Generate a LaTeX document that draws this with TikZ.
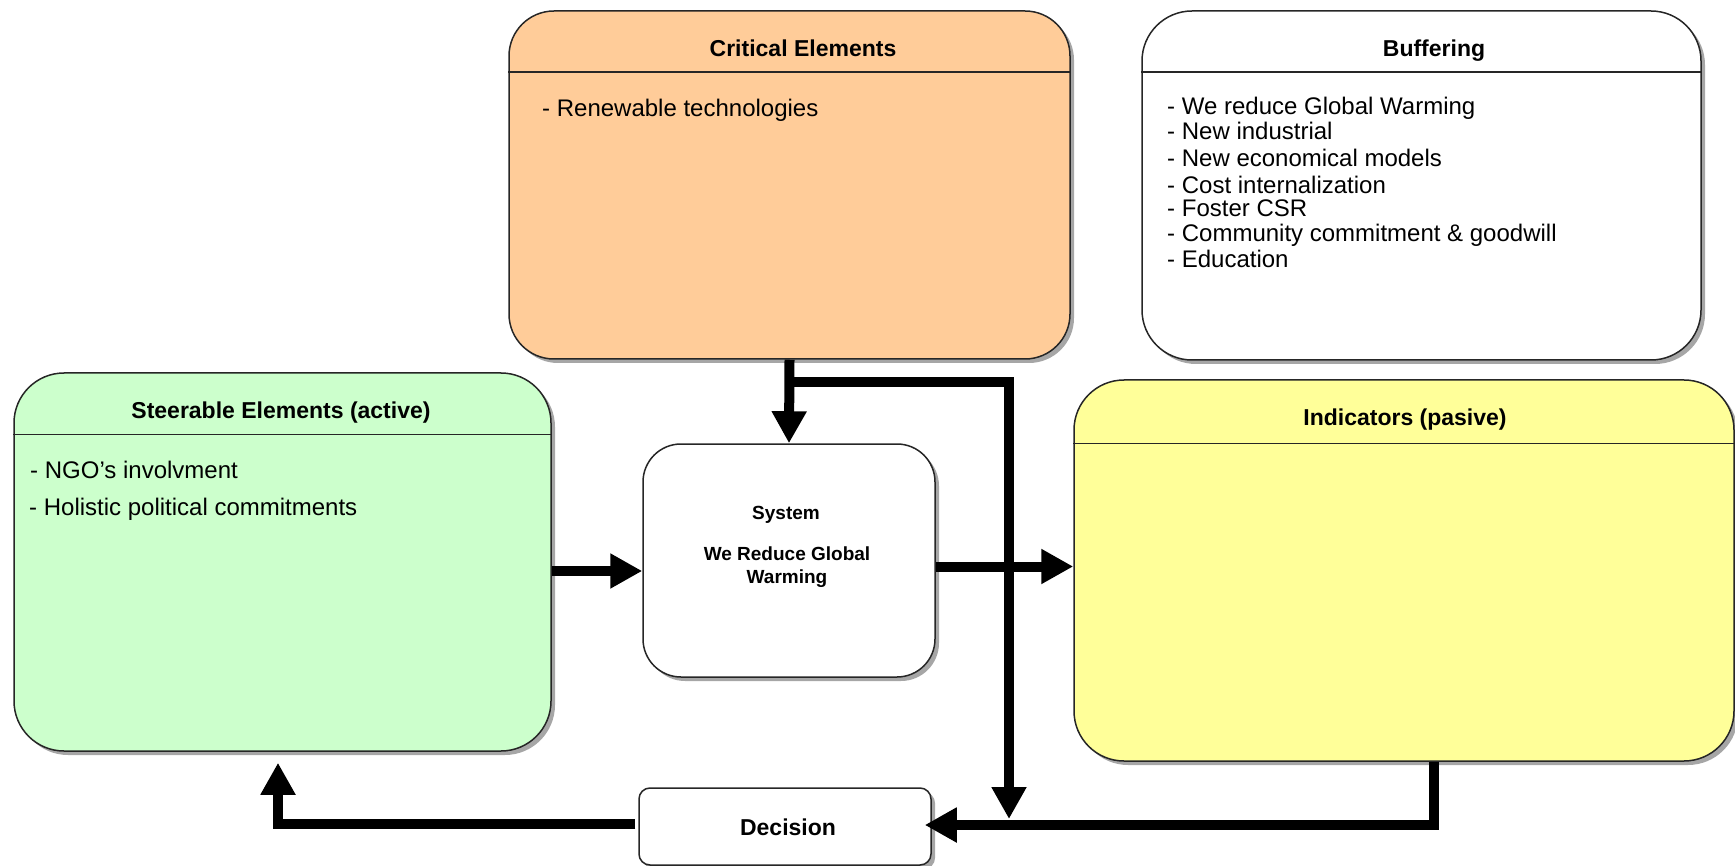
\documentclass[tikz,border=0pt]{standalone}
\usepackage{fontspec}
\setmainfont{Liberation Sans}
\usetikzlibrary{arrows.meta,shadows}
\definecolor{peach}{HTML}{FFCC99}
\definecolor{mint}{HTML}{CCFFCC}
\definecolor{lemon}{HTML}{FFFF99}
\begin{document}
\begin{tikzpicture}[x=1pt,y=-1pt,
  box/.style={draw=black!85, line width=1.5pt, rounded corners=#1, inner sep=0pt,
    drop shadow={shadow xshift=4pt,shadow yshift=-4pt,fill=black,opacity=0.35}},
  hdr/.style={draw=black!85, line width=1.5pt},
  ttl/.style={font=\bfseries\fontsize{23}{27}\selectfont, anchor=base, inner sep=0pt},
  body/.style={font=\fontsize{24}{25}\selectfont, anchor=base west, inner sep=0pt},
  systext/.style={font=\bfseries\fontsize{19}{23}\selectfont, anchor=base, inner sep=0pt},
  conn/.style={line width=10pt, line join=miter, draw=black},
  tip/.style={-{Triangle[length=32pt,width=33pt]}}
]
\useasboundingbox (0,0) rectangle (1735,866);

% boxes
\node[box=45pt, fill=peach, minimum width=561pt, minimum height=348pt] (crit) at (789.5,185) {};
\node[box=50pt, fill=white, minimum width=559pt, minimum height=349pt] (buf) at (1421.5,185.5) {};
\node[box=50pt, fill=mint, minimum width=537pt, minimum height=378pt] (steer) at (282.5,562) {};
\node[box=38pt, fill=white, minimum width=292pt, minimum height=233pt] (sys) at (789,560.5) {};
\node[box=50pt, fill=lemon, minimum width=660pt, minimum height=381pt] (ind) at (1404,570.5) {};
\node[box=11pt, fill=white, minimum width=292pt, minimum height=77pt] (dec) at (785,826.5) {};

% header lines
\draw[hdr] ([yshift=-62pt]crit.north west) -- ([yshift=-62pt]crit.north east);
\draw[hdr] ([yshift=-62pt]buf.north west) -- ([yshift=-62pt]buf.north east);
\draw[hdr] ([yshift=-62pt]steer.north west) -- ([yshift=-62pt]steer.north east);
\draw[hdr] ([yshift=-64pt]ind.north west) -- ([yshift=-64pt]ind.north east);

% titles
\node[ttl] (critT) at (803,57) {Critical Elements};
\node[ttl] (bufT) at (1434,57) {Buffering};
\node[ttl] (steerT) at (281,418) {Steerable Elements (active)};
\node[ttl] (indT) at (1405,425) {Indicators (pasive)};
\node[ttl] (decT) at (788,835) {Decision};

% system text
\node[systext] (sys1) at (786,519) {System};
\node[systext] (sys2) at (787,560) {We Reduce Global};
\node[systext] (sys3) at (787,583) {Warming};

% body texts
\node[body] (crit1) at (542,117) {- Renewable technologies};
\node[body] (buf1) at (1167,115) {- We reduce Global Warming};
\node[body] (buf2) at (1167,140) {- New industrial};
\node[body] (buf3) at (1167,167) {- New economical models};
\node[body] (buf4) at (1167,194) {- Cost internalization};
\node[body] (buf5) at (1167,217) {- Foster CSR};
\node[body] (buf6) at (1167,242) {- Community commitment \& goodwill};
\node[body] (buf7) at (1167,268) {- Education};
\node[body] (steer1) at (30,478) {- NGO's involvment};
\node[body] (steer2) at (29,515) {- Holistic political commitments};

% connectors
\coordinate (br) at (1009,382);
\coordinate (j1) at (1009,819);
\coordinate (c2) at (1434,825);
\coordinate (c3) at (278,824);

\draw[conn, tip] (crit.south) -- (sys.north);
\draw[conn, tip] (crit.south |- br) -- (br) -- (j1);
\draw[conn, tip] ([yshift=-9pt]steer.east) -- ([yshift=-9pt]steer.east -| sys.west);
\draw[conn, tip] ([yshift=-6pt]sys.east) -- ([yshift=-6pt]sys.east -| ind.west);
\draw[conn, tip, shorten >=-7pt] (ind.south -| c2) -- (c2) -- (c2 -| dec.east);
\draw[conn, tip, shorten <=3pt, shorten >=11pt] (dec.west |- c3) -- (c3) -- (c3 |- steer.south);
\end{tikzpicture}
\end{document}
